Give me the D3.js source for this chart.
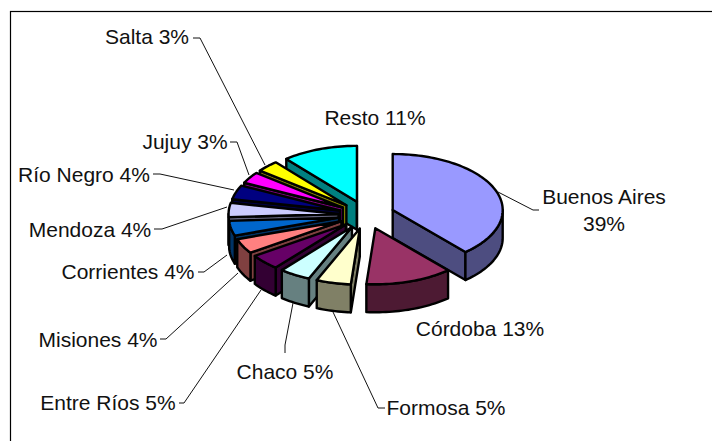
<!DOCTYPE html>
<html><head><meta charset="utf-8">
<script src="https://cdn.jsdelivr.net/npm/d3@7"></script>
<style>html,body{margin:0;background:#fff}svg{display:block}text{font-family:"Liberation Sans",Arial,sans-serif;fill:#111}</style>
</head><body><svg id="c" width="712" height="441"></svg>
<script>
const provinces=["Buenos Aires","Córdoba","Formosa","Chaco","Entre Ríos","Misiones","Corrientes","Mendoza","Río Negro","Jujuy","Salta","Resto"];
const shares=[38.5,12.8,5.1,4.6,4.5,4.3,4.3,4.1,4.1,3.3,3.3,11.1];
const topColors=["#9999FF","#993366","#FFFFCC","#CCFFFF","#660066","#FF8080","#0066CC","#CCCCFF","#000080","#FF00FF","#FFFF00","#00FFFF"];
const sideColors=["#4D4D80","#4D1A33","#808066","#668080","#330033","#804040","#003366","#666680","#000040","#800080","#808000","#008080"];
const drawOrder=[11,10,9,8,7,6,5,4,3,2,0,1];
const labelLines=[["Buenos Aires","39%"],["Córdoba 13%"],["Formosa 5%"],["Chaco 5%"],["Entre Ríos 5%"],["Misiones 4%"],["Corrientes 4%"],["Mendoza 4%"],["Río Negro 4%"],["Jujuy 3%"],["Salta 3%"],["Resto 11%"]];
const labelAnchors=[[604,204],[480,336],[446,415],[285,379],[108,410],[98,347],[128,279],[90,237],[84,182],[185,149],[147,44],[375,125]];
const leaderPaths=[[[498,192],[533,210],[539,210]],null,[[333,312],[378,408],[385,408]],[[293,303],[285,345],[285,353]],[[261,290],[184,403],[179,403]],[[238,273],[166,339],[160,339]],[[227,255],[204,272],[198,272]],[[227,207],[162,229],[154,229]],[[234,190],[160,174],[153,174]],[[249,175],[237,142],[230,142]],[[265,165],[200,38],[193,38]],null];

const W=712,H=441,cx=366.5,cy=215,rx=110,ry=56,depth=28,ex=28,ey=14,fs=21;
const svg=d3.select("#c");
svg.append("rect").attr("x",10.5).attr("y",11.5).attr("width",W).attr("height",H).attr("fill","#fff").attr("stroke","#000").attr("stroke-width",1.2);
const arcs=d3.pie().sort(null).value(d=>d)(shares);
const gx=d3.scaleLinear().domain([-1,1]).range([-rx,rx]);
const gy=d3.scaleLinear().domain([-1,1]).range([-ry,ry]);
const P=(o,a,r=1,dz=0)=>[o[0]+gx(Math.sin(a)*r),o[1]-gy(Math.cos(a)*r)+dz];
const line=d3.line();
const g=svg.append("g").attr("stroke","#000").attr("stroke-width",2.4).attr("stroke-linejoin","round");
function arcPts(o,a0,a1,dz){const n=Math.max(2,Math.ceil((a1-a0)/0.03));return d3.range(n+1).map(i=>P(o,a0+(a1-a0)*i/n,1,dz));}
const PI=Math.PI;
drawOrder.forEach(i=>{
  const a=arcs[i],a0=a.startAngle,a1=a.endAngle,m=(a0+a1)/2;
  const o=[cx+ex*Math.sin(m),cy-ey*Math.cos(m)];
  const apex=o,apexB=[o[0],o[1]+depth];
  if(Math.sin(a0)<0){const p=P(o,a0);g.append("path").attr("d",line([apex,p,[p[0],p[1]+depth],apexB])+"Z").attr("fill",sideColors[i]);}
  if(Math.sin(a1)>0){const p=P(o,a1);g.append("path").attr("d",line([apex,p,[p[0],p[1]+depth],apexB])+"Z").attr("fill",sideColors[i]);}
  const s=Math.max(a0,PI/2),e=Math.min(a1,3*PI/2);
  if(e>s){const t=arcPts(o,s,e,0),b=arcPts(o,s,e,depth).reverse();g.append("path").attr("d",line(t.concat(b))+"Z").attr("fill",sideColors[i]);}
  g.append("path").attr("d",line([apex].concat(arcPts(o,a0,a1,0)))+"Z").attr("fill",topColors[i]);
});
leaderPaths.forEach(p=>{if(p)svg.append("path").attr("d",line(p)).attr("fill","none").attr("stroke","#111").attr("stroke-width",1);});
labelLines.forEach((ls,i)=>{
  const t=svg.append("text").attr("text-anchor","middle").attr("font-size",fs);
  ls.forEach((l,k)=>t.append("tspan").attr("x",labelAnchors[i][0]).attr("y",labelAnchors[i][1]+k*27).text(l));
});
</script></body></html>
